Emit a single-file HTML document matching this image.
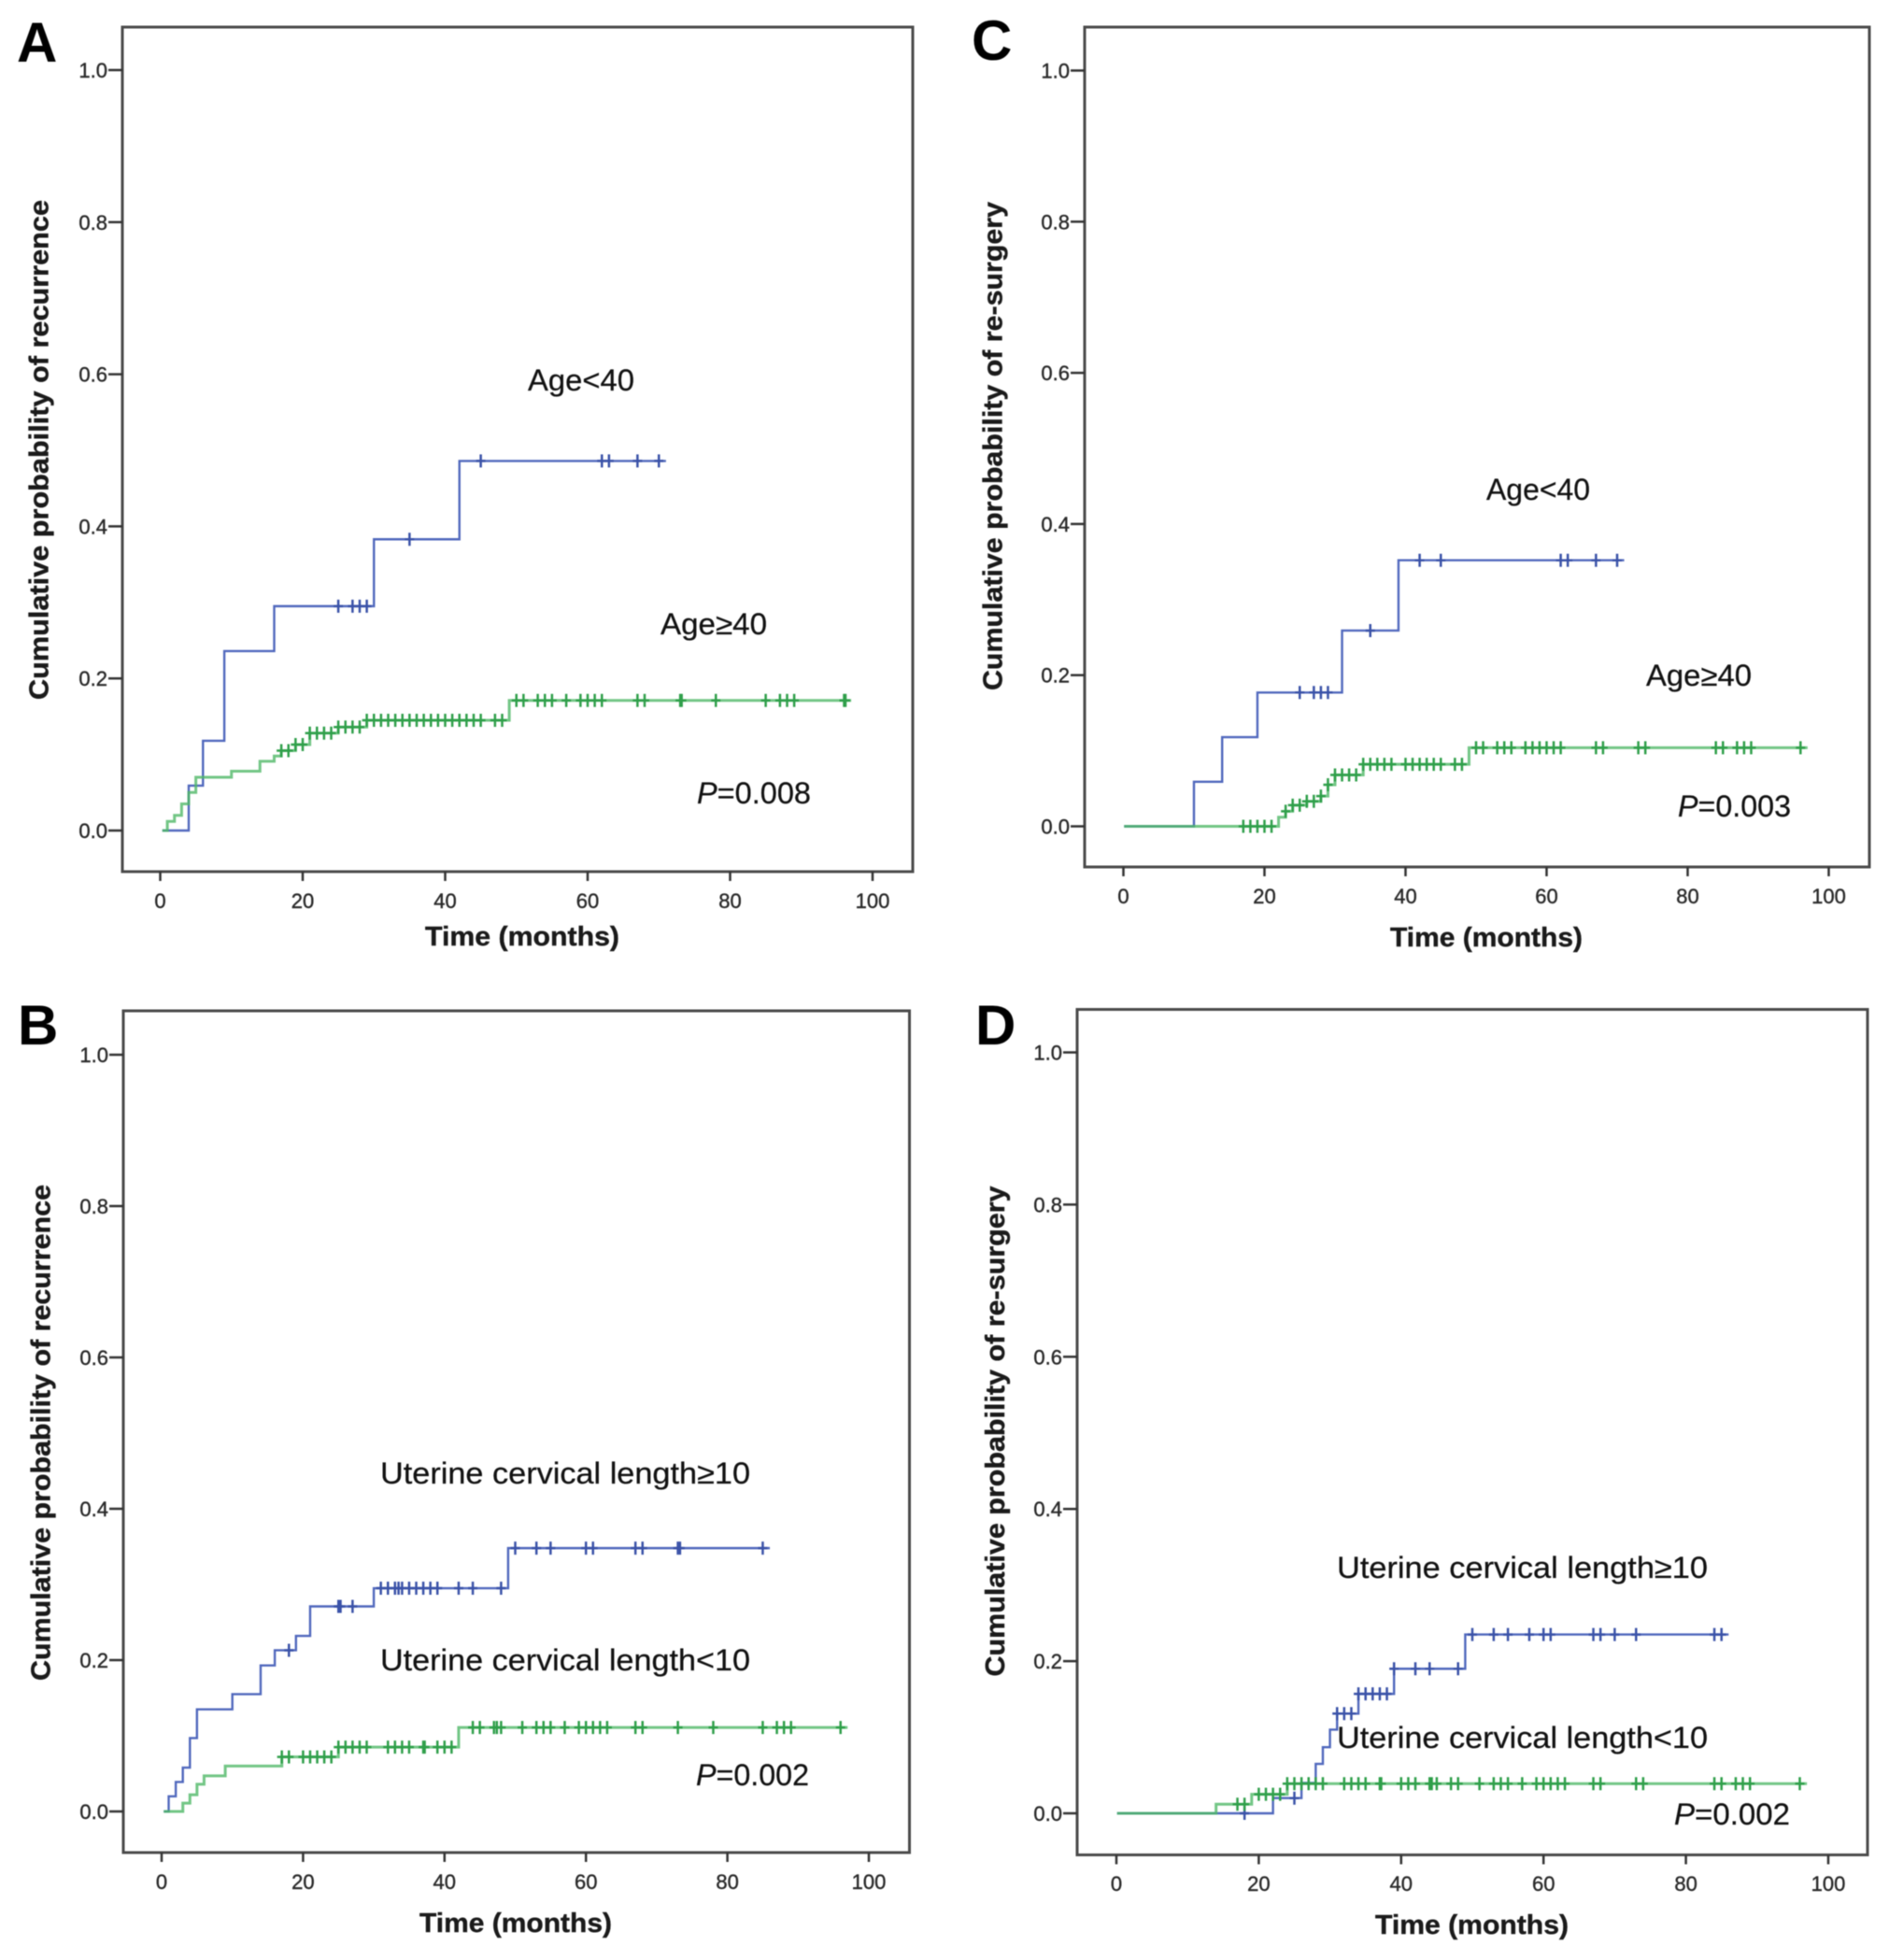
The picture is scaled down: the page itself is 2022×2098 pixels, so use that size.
<!DOCTYPE html>
<html lang="en">
<head>
<meta charset="utf-8">
<title>Cumulative probability curves</title>
<style>
html,body{margin:0;padding:0;background:#fff;width:2022px;height:2098px;overflow:hidden}
svg{display:block;filter:blur(0.6px)}
text{font-family:"Liberation Sans",sans-serif}
.panel-letter{font-size:60px;font-weight:bold;fill:#000}
.axis-title{font-size:29px;font-weight:bold;fill:#1a1a1a;stroke:#1a1a1a;stroke-width:0.4px}
.note{font-size:32px;fill:#111;stroke:#111;stroke-width:0.25px}
.tick-label{font-size:22px;fill:#2a2a2a;stroke:#2a2a2a;stroke-width:0.4px}
</style>
</head>
<body>
<svg id="chart" xmlns="http://www.w3.org/2000/svg" width="2022" height="2098" viewBox="0 0 2022 2098">
  <rect width="2022" height="2098" fill="#fff"/>

  <g id="panel-a"></g>
  <g id="panel-c"></g>
  <g id="panel-b"></g>
  <g id="panel-d"></g>

  <text class="panel-letter" x="18" y="66">A</text>
  <text class="panel-letter" x="1040" y="64">C</text>
  <text class="panel-letter" x="19" y="1118">B</text>
  <text class="panel-letter" x="1044" y="1118">D</text>

  <text class="axis-title" transform="translate(51.5 749) rotate(-90)" textLength="535" lengthAdjust="spacingAndGlyphs">Cumulative probability of recurrence</text>
  <text class="axis-title" transform="translate(1072.5 739) rotate(-90)" textLength="523" lengthAdjust="spacingAndGlyphs">Cumulative probability of re-surgery</text>
  <text class="axis-title" transform="translate(53.5 1799) rotate(-90)" textLength="531" lengthAdjust="spacingAndGlyphs">Cumulative probability of recurrence</text>
  <text class="axis-title" transform="translate(1075 1794.5) rotate(-90)" textLength="525" lengthAdjust="spacingAndGlyphs">Cumulative probability of re-surgery</text>

  <text class="axis-title" x="455" y="1012" textLength="208" lengthAdjust="spacingAndGlyphs">Time (months)</text>
  <text class="axis-title" x="1488" y="1013" textLength="206" lengthAdjust="spacingAndGlyphs">Time (months)</text>
  <text class="axis-title" x="449" y="2068" textLength="206" lengthAdjust="spacingAndGlyphs">Time (months)</text>
  <text class="axis-title" x="1472" y="2070" textLength="207" lengthAdjust="spacingAndGlyphs">Time (months)</text>

  <text class="note" x="565" y="418" textLength="114" lengthAdjust="spacingAndGlyphs">Age&lt;40</text>
  <text class="note" x="707" y="679" textLength="114" lengthAdjust="spacingAndGlyphs">Age≥40</text>
  <text class="note" x="746" y="860" textLength="122" lengthAdjust="spacingAndGlyphs"><tspan font-style="italic">P</tspan>=0.008</text>

  <text class="note" x="1591" y="535" textLength="111" lengthAdjust="spacingAndGlyphs">Age&lt;40</text>
  <text class="note" x="1762" y="734" textLength="113" lengthAdjust="spacingAndGlyphs">Age≥40</text>
  <text class="note" x="1796" y="874" textLength="121" lengthAdjust="spacingAndGlyphs"><tspan font-style="italic">P</tspan>=0.003</text>

  <text class="note" x="407" y="1588" textLength="396" lengthAdjust="spacingAndGlyphs">Uterine cervical length≥10</text>
  <text class="note" x="407" y="1788" textLength="396" lengthAdjust="spacingAndGlyphs">Uterine cervical length&lt;10</text>
  <text class="note" x="745" y="1911" textLength="121" lengthAdjust="spacingAndGlyphs"><tspan font-style="italic">P</tspan>=0.002</text>

  <text class="note" x="1431" y="1689" textLength="397" lengthAdjust="spacingAndGlyphs">Uterine cervical length≥10</text>
  <text class="note" x="1431" y="1871" textLength="397" lengthAdjust="spacingAndGlyphs">Uterine cervical length&lt;10</text>
  <text class="note" x="1792" y="1953" textLength="124" lengthAdjust="spacingAndGlyphs"><tspan font-style="italic">P</tspan>=0.002</text>
</svg>

<script>
// Shared axis ticks
const xTickValues = [0, 20, 40, 60, 80, 100];
const xTickLabels = ["0", "20", "40", "60", "80", "100"];
const yTickValues = [0, 0.2, 0.4, 0.6, 0.8, 1.0];
const yTickLabels = ["0.0", "0.2", "0.4", "0.6", "0.8", "1.0"];

// Panel A
const aBlueTimes = [0.3, 4, 6, 9, 16, 30, 42, 71];
const aBlueValues = [0, 0.059, 0.118, 0.236, 0.295, 0.383, 0.486, 0.486];
const aBlueCensored = [25, 27, 28, 29, 35, 45, 62, 63, 67, 70];
const aGreenTimes = [0.3, 1, 2, 3, 4, 5, 10, 14, 16, 17, 19, 21, 25, 29, 49, 97];
const aGreenValues = [0, 0.012, 0.02, 0.035, 0.05, 0.07, 0.078, 0.091, 0.098, 0.105, 0.113, 0.128, 0.136, 0.145, 0.171, 0.171];
const aGreenCensored = [17, 18, 19, 20, 21, 22, 23, 24, 25, 26, 27, 28, 29, 30, 31, 32, 33, 34, 35, 36, 37, 38, 39, 40, 41, 42, 43, 44, 45, 47, 48, 50, 51, 53, 54, 55, 57, 59, 60, 61, 62, 67, 68, 73, 73.2, 78, 85, 87, 88, 89, 96, 96.2];

// Panel C
const cBlueTimes = [0.1, 10, 14, 19, 31, 39, 71];
const cBlueValues = [0, 0.059, 0.118, 0.177, 0.259, 0.352, 0.352];
const cBlueCensored = [25, 27, 28, 29, 35, 42, 45, 62, 63, 67, 70];
const cGreenTimes = [0.1, 22, 23, 24, 26, 28, 29, 30, 34, 49, 97];
const cGreenValues = [0, 0.012, 0.02, 0.028, 0.033, 0.04, 0.055, 0.068, 0.082, 0.104, 0.104];
const cGreenCensored = [17, 18, 19, 20, 21, 23, 24, 25, 26, 27, 28, 29, 30, 31, 32, 33, 34, 35, 36, 37, 38, 40, 41, 42, 43, 44, 45, 47, 48, 50, 51, 53, 54, 55, 57, 58, 59, 60, 61, 62, 67, 68, 73, 74, 84, 85, 87, 88, 89, 96];

// Panel B
const bBlueTimes = [0.3, 1, 2, 3, 4, 5, 10, 14, 16, 19, 21, 30, 49, 86];
const bBlueValues = [0, 0.02, 0.039, 0.058, 0.097, 0.135, 0.155, 0.193, 0.213, 0.232, 0.271, 0.295, 0.348, 0.348];
const bBlueCensored = [18, 25, 25.3, 27, 31, 32, 33, 33.5, 34, 35, 36, 37, 38, 39, 42, 44, 48, 50, 53, 55, 60, 61, 67, 68, 73, 73.3, 85];
const bGreenTimes = [0.3, 3, 4, 5, 6, 9, 17, 25, 42, 97];
const bGreenValues = [0, 0.011, 0.022, 0.036, 0.047, 0.06, 0.072, 0.085, 0.111, 0.111];
const bGreenCensored = [17, 18, 20, 21, 22, 23, 24, 25, 26, 27, 28, 29, 32, 33, 34, 35, 37, 37.2, 39, 40, 41, 44, 45, 47, 47.4, 48, 51, 53, 54, 55, 57, 59, 60, 61, 62, 63, 67, 68, 73, 78, 85, 87, 88, 89, 96];

// Panel D
const dBlueTimes = [0.1, 22, 26, 28, 29, 30, 31, 34, 39, 49, 86];
const dBlueValues = [0, 0.02, 0.04, 0.065, 0.087, 0.11, 0.131, 0.157, 0.19, 0.235, 0.235];
const dBlueCensored = [18, 25, 31, 32, 33, 34, 35, 36, 37, 38, 39, 42, 44, 48, 50, 53, 55, 58, 60, 61, 67, 68, 70, 73, 84, 85];
const dGreenTimes = [0.1, 14, 19, 24, 97];
const dGreenValues = [0, 0.012, 0.025, 0.039, 0.039];
const dGreenCensored = [17, 18, 20, 21, 22, 23, 24, 25, 26, 27, 28, 29, 32, 33, 34, 35, 37, 37.2, 40, 41, 42, 44, 44.3, 45, 47, 48, 51, 53, 54, 55, 57, 59, 60, 61, 62, 63, 67, 68, 73, 74, 84, 85, 87, 88, 89, 96];

const SVG_NS = "http://www.w3.org/2000/svg";
const BLUE_LINE = "#5068bd";
const BLUE_MARK = "#3a52a8";
const GREEN_LINE = "#4fb866";
const GREEN_MARK = "#2f9f4a";

function makeLine(parent, x1, y1, x2, y2, color, width) {
  const el = document.createElementNS(SVG_NS, "line");
  el.setAttribute("x1", x1);
  el.setAttribute("y1", y1);
  el.setAttribute("x2", x2);
  el.setAttribute("y2", y2);
  el.setAttribute("stroke", color);
  el.setAttribute("stroke-width", width);
  parent.appendChild(el);
  return el;
}

function stepValueAt(times, values, t) {
  let v = values[0];
  for (let i = 0; i < times.length; i++) {
    if (times[i] <= t) v = values[i];
  }
  return v;
}

function drawSeries(parent, name, times, values, censored, xScale, yScale, lineColor, markColor, lineWidth, lineOpacity) {
  let d = "M" + xScale(times[0]) + " " + yScale(values[0]);
  for (let i = 1; i < times.length; i++) {
    d += "H" + xScale(times[i]) + "V" + yScale(values[i]);
  }
  const path = document.createElementNS(SVG_NS, "path");
  path.setAttribute("d", d);
  path.setAttribute("fill", "none");
  path.setAttribute("stroke", lineColor);
  path.setAttribute("stroke-width", lineWidth);
  path.setAttribute("stroke-opacity", lineOpacity);
  
  
  parent.appendChild(path);

  censored.forEach(function (t) {
    const cx = xScale(t);
    const cy = yScale(stepValueAt(times, values, t));
    const mark = document.createElementNS(SVG_NS, "path");
    mark.setAttribute("d", "M" + (cx - 5) + " " + cy + "H" + (cx + 5) + "M" + cx + " " + (cy - 7) + "V" + (cy + 7));
    mark.setAttribute("stroke", markColor);
    mark.setAttribute("stroke-width", 2.5);
    mark.setAttribute("fill", "none");
    
    
    parent.appendChild(mark);
  });
}

function drawPanel(id, box, blueTimes, blueValues, blueCensored, greenTimes, greenValues, greenCensored) {
  const parent = document.getElementById(id);
  const xScale = function (t) { return box.x0 + (box.x100 - box.x0) * t / 100; };
  const yScale = function (v) { return box.y0 + (box.y1 - box.y0) * v; };

  const frame = document.createElementNS(SVG_NS, "rect");
  frame.setAttribute("x", box.left);
  frame.setAttribute("y", box.top);
  frame.setAttribute("width", box.right - box.left);
  frame.setAttribute("height", box.bottom - box.top);
  frame.setAttribute("fill", "#fff");
  frame.setAttribute("stroke", "#4a4a4a");
  frame.setAttribute("stroke-width", 3);
  
  
  parent.appendChild(frame);

  xTickValues.forEach(function (value, i) {
    const px = xScale(value);
    const tick = makeLine(parent, px, box.bottom, px, box.bottom + 10, "#333", 2.5);
    
    
    const label = document.createElementNS(SVG_NS, "text");
    label.setAttribute("x", px);
    label.setAttribute("y", box.xLabelY);
    label.setAttribute("text-anchor", "middle");
    label.setAttribute("class", "tick-label");
    
    
    label.textContent = xTickLabels[i];
    parent.appendChild(label);
  });

  yTickValues.forEach(function (value, i) {
    const py = yScale(value);
    const tick = makeLine(parent, box.left - 15, py, box.left, py, "#333", 2.5);
    
    
    const label = document.createElementNS(SVG_NS, "text");
    label.setAttribute("x", box.left - 16);
    label.setAttribute("y", py + 8);
    label.setAttribute("text-anchor", "end");
    label.setAttribute("class", "tick-label");
    
    
    label.textContent = yTickLabels[i];
    parent.appendChild(label);
  });

  drawSeries(parent, id + "-blue", blueTimes, blueValues, blueCensored, xScale, yScale, BLUE_LINE, BLUE_MARK, 2.4, 1);
  drawSeries(parent, id + "-green", greenTimes, greenValues, greenCensored, xScale, yScale, GREEN_LINE, GREEN_MARK, 3, 0.8);
}

drawPanel("panel-a", {left: 131, right: 977, top: 29, bottom: 933, x0: 171.5, x100: 934, y0: 889, y1: 75, xLabelY: 972},
  aBlueTimes, aBlueValues, aBlueCensored, aGreenTimes, aGreenValues, aGreenCensored);
drawPanel("panel-c", {left: 1161, right: 2001, top: 29, bottom: 928, x0: 1202.5, x100: 1957.5, y0: 884.5, y1: 75.5, xLabelY: 967},
  cBlueTimes, cBlueValues, cBlueCensored, cGreenTimes, cGreenValues, cGreenCensored);
drawPanel("panel-b", {left: 132, right: 973.5, top: 1082, bottom: 1983, x0: 173, x100: 930, y0: 1939, y1: 1129, xLabelY: 2022},
  bBlueTimes, bBlueValues, bBlueCensored, bGreenTimes, bGreenValues, bGreenCensored);
drawPanel("panel-d", {left: 1153, right: 1999, top: 1080.5, bottom: 1985.5, x0: 1195, x100: 1957, y0: 1941, y1: 1126.5, xLabelY: 2024},
  dBlueTimes, dBlueValues, dBlueCensored, dGreenTimes, dGreenValues, dGreenCensored);
</script>
</body>
</html>
